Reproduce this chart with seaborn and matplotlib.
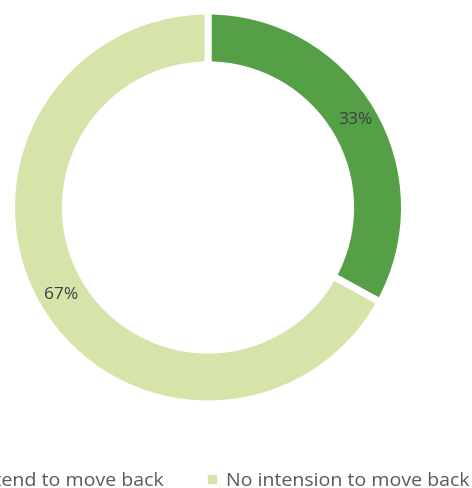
import matplotlib
matplotlib.use("Agg")
import matplotlib.pyplot as plt
from matplotlib.lines import Line2D
import seaborn as sns

categories = ["Intend to move back", "No intension to move back"]
shares = [33, 67]
colors = ["#55A046", "#D6E4AA"]

sns.set_theme(style="white")
plt.rcParams["font.family"] = ["Open Sans", "DejaVu Sans"]

W, H = 472, 488
fig = plt.figure(figsize=(W / 100, H / 100), dpi=100)

# donut centred at (208, 207.5) px; axes span maps 1 unit to 193 px
cx, cy, r = 208, 207.5, 193
ax = fig.add_axes([(cx - r) / W, 1 - (cy + r) / H, 2 * r / W, 2 * r / H])
edge_lw = 5.0                       # white separator, points
half_edge = edge_lw * 100 / 72 / 2 / r   # half stroke in data units
wedges, texts, autotexts = ax.pie(
    shares,
    colors=colors,
    startangle=90,
    counterclock=False,
    radius=1.0 + half_edge,
    autopct="%d%%",
    pctdistance=0.87,
    wedgeprops=dict(width=0.243 + 2 * half_edge, edgecolor="white",
                    linewidth=edge_lw),
    textprops=dict(color="#404040", fontsize=12.5),
)
ax.set_xlim(-1, 1)
ax.set_ylim(-1, 1)
ax.set_aspect("auto")
ax.axis("off")

handles = [
    Line2D([], [], marker="s", linestyle="none", markersize=5.8,
           markerfacecolor=c, markeredgecolor=c)
    for c in colors
]
fig.legend(
    handles, categories,
    loc="lower right",
    bbox_to_anchor=(469.5 / W, -1.5 / H),
    ncol=2,
    frameon=False,
    fontsize=14,
    labelcolor="#595959",
    handlelength=0.45,
    handletextpad=0.5,
    columnspacing=2.25,
    borderpad=0.0,
    borderaxespad=0,
)

fig.savefig("out.png", dpi=100, facecolor="white")
